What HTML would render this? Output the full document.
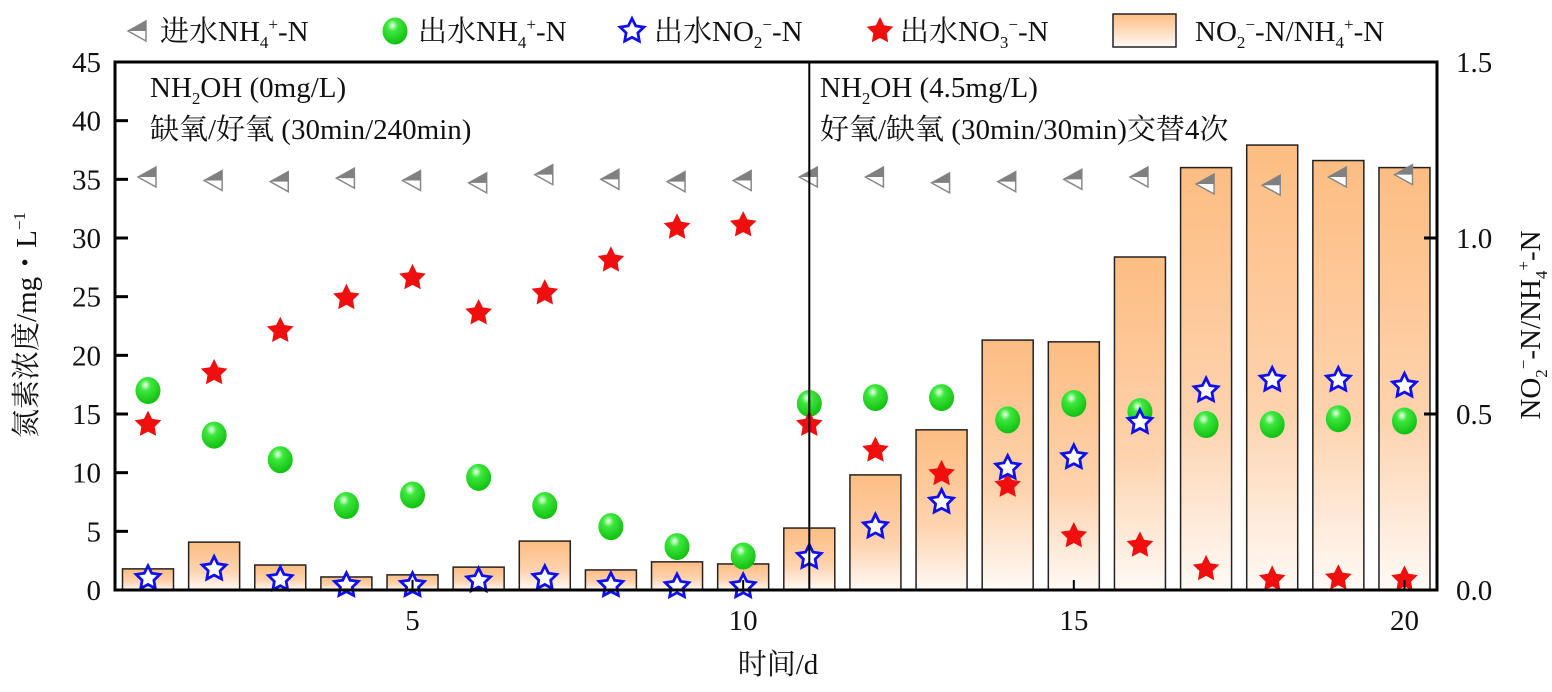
<!DOCTYPE html>
<html><head><meta charset="utf-8"><style>
body{margin:0;background:#fff}
svg text{font-family:"Liberation Serif","Noto Serif CJK SC","Noto Sans CJK SC",serif;fill:#111}
</style></head><body>
<svg id="c" width="1552" height="687" viewBox="0 0 1552 687">
<defs>
<linearGradient id="bg" x1="0" y1="0" x2="0" y2="1"><stop offset="0" stop-color="#fdbd82"/><stop offset="0.6" stop-color="#fed3ae"/><stop offset="1" stop-color="#fffaf6"/></linearGradient>
<radialGradient id="gb" cx="0.4" cy="0.3" r="0.7"><stop offset="0" stop-color="#f0fff0"/><stop offset="0.3" stop-color="#3ee83e"/><stop offset="1" stop-color="#10c010"/></radialGradient>
</defs>
<g id="bars"></g><g id="marks"></g><g id="axes"></g>
</svg>
<script>
const days=[1,2,3,4,5,6,7,8,9,10,11,12,13,14,15,16,17,18,19,20];
const inNH4=[35.2,34.9,34.8,35.1,34.9,34.7,35.4,35.0,34.8,34.9,35.2,35.2,34.7,34.8,35.0,35.2,34.6,34.5,35.2,35.4];
const outNH4=[17.0,13.2,11.1,7.2,8.1,9.6,7.2,5.4,3.7,2.9,15.9,16.4,16.4,14.5,15.9,15.2,14.1,14.1,14.6,14.4];
const outNO2=[1.0,1.8,0.9,0.4,0.4,0.8,1.0,0.4,0.3,0.3,2.8,5.4,7.5,10.4,11.3,14.3,17.0,17.9,17.9,17.4];
const outNO3=[14.1,18.5,22.1,24.9,26.6,23.6,25.3,28.1,30.9,31.1,14.1,11.9,9.9,8.9,4.6,3.8,1.8,0.9,1.0,0.9];
const ratio=[0.06,0.136,0.071,0.037,0.043,0.065,0.139,0.057,0.08,0.074,0.176,0.327,0.455,0.71,0.705,0.946,1.2,1.264,1.22,1.2];
const yTicks=[0,5,10,15,20,25,30,35,40,45];
const y2Ticks=["0.0","0.5","1.0","1.5"];
const xTicks=[5,10,15,20];
const NS="http://www.w3.org/2000/svg";
const L=115,R=1437,T=62,B=590;
const X=d=>148+(d-1)*66.13;
const Y=v=>B-(v/45)*(B-T);
const Y2=v=>B-(v/1.5)*(B-T);
function mk(tag,attrs,parent,txt){const e=document.createElementNS(NS,tag);for(const k in attrs)e.setAttribute(k,attrs[k]);if(txt!==undefined)e.innerHTML=txt;(typeof parent==='string'?document.getElementById(parent):parent).appendChild(e);return e;}
function star(cx,cy,r,k){k=k||0.48;let p=[];for(let i=0;i<10;i++){const a=-Math.PI/2+i*Math.PI/5;const rr=i%2?r*k:r;p.push((cx+rr*Math.cos(a)).toFixed(1)+","+(cy+rr*Math.sin(a)).toFixed(1));}return p.join(" ");}
days.forEach((d,i)=>{const e=mk('rect',{x:X(d)-25.5,y:Y2(ratio[i]),width:51,height:B-Y2(ratio[i]),fill:'url(#bg)',stroke:'#222','stroke-width':1.5},'bars');

});
days.forEach((d,i)=>{const x=X(d),y=Y(inNH4[i]);
const g=mk('g',{},'marks');


mk('polygon',{points:`${x-10},${y} ${x+8},${y-10} ${x+8},${y+10}`,fill:'#fff',stroke:'#888','stroke-width':1.5},g);
mk('polygon',{points:`${x-10},${y} ${x+8},${y-10} ${x+8},${y}`,fill:'#808080'},g);});
days.forEach((d,i)=>{const e=mk('ellipse',{cx:X(d),cy:Y(outNH4[i]),rx:12.5,ry:13.5,fill:'url(#gb)'},'marks');

});
days.forEach((d,i)=>{const e=mk('polygon',{points:star(X(d),Y(outNO3[i]),14,0.5),fill:'#f00f0f'},'marks');

});
days.forEach((d,i)=>{const e=mk('polygon',{points:star(X(d),Y(outNO2[i]),12.5,0.5),fill:'#fff',stroke:'#1010ee','stroke-width':2.8},'marks');

});
const fr=mk('rect',{x:L,y:T,width:R-L,height:B-T,fill:'none',stroke:'#000','stroke-width':3},'axes');


const dv=mk('line',{x1:X(11),x2:X(11),y1:T,y2:B,stroke:'#000','stroke-width':2},'axes');


yTicks.forEach(v=>{mk('line',{x1:L,x2:L+13,y1:Y(v),y2:Y(v),stroke:'#000','stroke-width':3},'axes');
const t=mk('text',{x:L-14,y:Y(v)+10,'text-anchor':'end','font-size':29},'axes',v);

});
y2Ticks.forEach(v=>{mk('line',{x1:R-13,x2:R,y1:Y2(+v),y2:Y2(+v),stroke:'#000','stroke-width':3},'axes');
const t=mk('text',{x:R+19,y:Y2(+v)+10,'font-size':29},'axes',v);

});
xTicks.forEach(v=>{mk('line',{x1:X(v),x2:X(v),y1:B,y2:B-10,stroke:'#000','stroke-width':2},'axes');
const t=mk('text',{x:X(v),y:B+40,'text-anchor':'middle','font-size':29},'axes',v);

});
</script>
<svg width="1552" height="687" style="position:absolute;left:0;top:0">
<defs>
<linearGradient id="lg2" x1="0" y1="0" x2="0" y2="1"><stop offset="0" stop-color="#fdbd82"/><stop offset="1" stop-color="#fffaf6"/></linearGradient>
<radialGradient id="gb2" cx="0.4" cy="0.3" r="0.7"><stop offset="0" stop-color="#f0fff0"/><stop offset="0.3" stop-color="#3ee83e"/><stop offset="1" stop-color="#10c010"/></radialGradient>
</defs>
<text x="150" y="97" font-size="29">NH<tspan font-size="17" dy="7">2</tspan><tspan dy="-7">OH (0mg/L)</tspan></text>
<text x="150" y="139" font-size="29">缺氧/好氧  (30min/240min)</text>
<text x="820" y="97" font-size="29">NH<tspan font-size="17" dy="7">2</tspan><tspan dy="-7">OH (4.5mg/L)</tspan></text>
<text x="820" y="139" font-size="29">好氧/缺氧  (30min/30min)交替4次</text>
<text x="778" y="674" font-size="29" text-anchor="middle">时间/d</text>
<text transform="translate(36,325) rotate(-90)" font-size="29" text-anchor="middle">氮素浓度/mg・L<tspan font-size="17" dy="-11">−1</tspan></text>
<text transform="translate(1540,325) rotate(-90)" font-size="29" text-anchor="middle">NO<tspan font-size="17" dy="7">2</tspan><tspan font-size="17" dy="-18">−</tspan><tspan dy="11">-N/NH</tspan><tspan font-size="17" dy="7">4</tspan><tspan font-size="17" dy="-18">+</tspan><tspan dy="11">-N</tspan></text>
<g>
<g><polygon points="128,31 146,21 146,41" fill="#fff" stroke="#888" stroke-width="1.5"/><polygon points="128,31 146,21 146,31" fill="#808080"/>
<text x="160" y="41" font-size="29">进水NH<tspan font-size="17" dy="7">4</tspan><tspan font-size="17" dy="-18">+</tspan><tspan dy="11">-N</tspan></text></g>
<g><ellipse cx="395" cy="31" rx="12.5" ry="13.5" fill="url(#gb2)"/>
<text x="418" y="41" font-size="29">出水NH<tspan font-size="17" dy="7">4</tspan><tspan font-size="17" dy="-18">+</tspan><tspan dy="11">-N</tspan></text></g>
<g><polygon id="ls1" fill="#fff" stroke="#1010ee" stroke-width="2.8"/>
<text x="654" y="41" font-size="29">出水NO<tspan font-size="17" dy="7">2</tspan><tspan font-size="17" dy="-18">−</tspan><tspan dy="11">-N</tspan></text></g>
<g><polygon id="ls2" fill="#f00f0f"/>
<text x="900" y="41" font-size="29">出水NO<tspan font-size="17" dy="7">3</tspan><tspan font-size="17" dy="-18">−</tspan><tspan dy="11">-N</tspan></text></g>
<g><rect x="1113" y="14" width="63" height="33" fill="url(#lg2)" stroke="#222" stroke-width="1.5"/>
<text x="1195" y="41" font-size="29">NO<tspan font-size="17" dy="7">2</tspan><tspan font-size="17" dy="-18">−</tspan><tspan dy="11">-N/NH</tspan><tspan font-size="17" dy="7">4</tspan><tspan font-size="17" dy="-18">+</tspan><tspan dy="11">-N</tspan></text></g>
</g>
</svg>
<script>
document.getElementById('ls1').setAttribute('points',star(632,31,12.5,0.5));
document.getElementById('ls2').setAttribute('points',star(880,31,14,0.5));
</script>
</body></html>
